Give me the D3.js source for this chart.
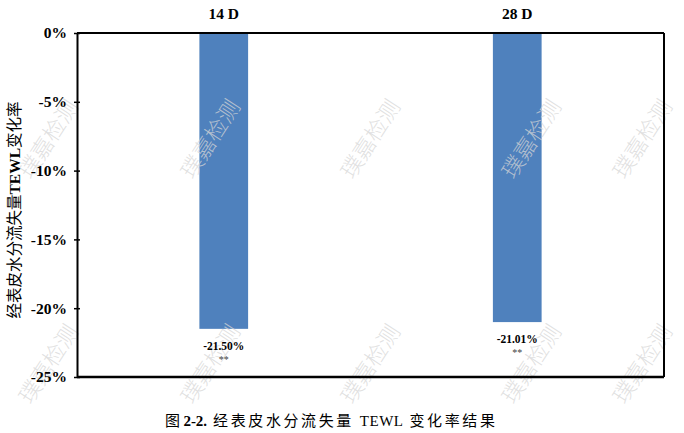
<!DOCTYPE html>
<html><head><meta charset="utf-8">
<script src="https://cdn.jsdelivr.net/npm/d3@7"></script>
<style>body{margin:0;background:#fff;}svg{display:block;}</style>
</head><body>
<svg id="c" width="684" height="433"></svg>
<script>
const categories = ["14 D", "28 D"];
const values = [-21.50, -21.01];
const valueLabels = ["-21.50%", "-21.01%"];
const significance = ["**", "**"];
const yTicks = [0, -5, -10, -15, -20, -25];
const yTitle = ["经表皮水分流失量", "TEWL", "变化率"];
const caption = ["图 ", "2-2.", " 经表皮水分流失量 ", "TEWL", " 变化率结果"];
const watermark = "璞嘉检测";

const svg = d3.select("#c");
const m = {l:77, r:664, t:33, b:377};
const x = d3.scaleBand().domain(categories).range([m.l, m.r]).paddingInner(0.834).paddingOuter(0.417);
const y = d3.scaleLinear().domain([0, -25]).range([m.t, m.b]);
const serif = "'Liberation Serif','Times New Roman',serif";
const cjk = "'Noto Sans CJK SC','Noto Sans',sans-serif";

svg.append("rect").attr("x",0).attr("y",0).attr("width",684).attr("height",433).attr("fill","#fff");

// bars
svg.selectAll("rect.bar").data(categories).join("rect").attr("class","bar")
  .attr("x", d=>x(d)).attr("width", x.bandwidth())
  .attr("y", y(0)).attr("height", (d,i)=>y(values[i])-y(0))
  .attr("fill","#4F81BD");

// watermarks
const wmX = [50, 212, 372, 533, 644];
const wmY = [140, 365];
wmY.forEach(wy=>wmX.forEach(wx=>{
  svg.append("text").attr("transform",`translate(${wx},${wy}) rotate(-57)`).attr("text-anchor","middle")
    .attr("dominant-baseline","middle").attr("font-family",cjk).attr("font-weight",300).attr("font-size",22)
    .attr("fill","#d6d6d6").attr("fill-opacity",0.75).text(watermark);
}));

// frame
const g = svg.append("g");
g.append("line").attr("x1",m.l).attr("x2",m.r).attr("y1",m.t).attr("y2",m.t).attr("stroke","#000").attr("stroke-width",2);
g.append("line").attr("x1",m.l).attr("x2",m.r).attr("y1",m.b).attr("y2",m.b).attr("stroke","#000").attr("stroke-width",2.5);
g.append("line").attr("x1",m.r).attr("x2",m.r).attr("y1",m.t).attr("y2",m.b).attr("stroke","#000").attr("stroke-width",2);

// y axis
const yAxis = d3.axisLeft(y).tickValues(yTicks).tickFormat(d=>d+"%").tickSize(0).tickPadding(10);
const ya = svg.append("g").attr("transform",`translate(${m.l},0)`).call(yAxis);
ya.select(".domain").attr("stroke","#000").attr("stroke-width",2);
ya.selectAll(".tick text").attr("font-family",serif).attr("font-weight","bold").attr("font-size",15.5).attr("fill","#000");
ya.selectAll(".tick").append("line").attr("x1",-3).attr("x2",3).attr("stroke","#000").attr("stroke-width",1.5);

// top category axis
const xAxis = d3.axisTop(x).tickSize(0).tickPadding(14);
const xa = svg.append("g").attr("transform",`translate(0,${m.t})`).call(xAxis);
xa.select(".domain").remove();
xa.selectAll(".tick text").attr("font-family",serif).attr("font-weight","bold").attr("font-size",15.5).attr("fill","#000");

// value labels
categories.forEach((c,i)=>{
  const cx = x(c)+x.bandwidth()/2;
  svg.append("text").attr("x",cx).attr("y",y(values[i])+21).attr("text-anchor","middle")
    .attr("font-family",serif).attr("font-weight","bold").attr("font-size",11.5).text(valueLabels[i]);
  svg.append("text").attr("x",cx).attr("y",y(values[i])+34).attr("text-anchor","middle")
    .attr("font-family",serif).attr("font-size",10).attr("fill","#444").text(significance[i]);
});

// y title
svg.append("text").attr("transform",`translate(20,${(m.t+m.b)/2+5}) rotate(-90)`).attr("text-anchor","middle")
  .attr("font-size",15.5).attr("fill","#000")
  .call(t=>{
    t.append("tspan").attr("font-family",cjk).text(yTitle[0]);
    t.append("tspan").attr("font-family",serif).attr("font-weight","bold").text(yTitle[1]);
    t.append("tspan").attr("font-family",cjk).text(yTitle[2]);
  });

// caption
const cap = svg.append("text").attr("x",165).attr("y",426).attr("font-size",15).attr("fill","#000");
cap.append("tspan").attr("font-family",cjk).text(caption[0]);
cap.append("tspan").attr("font-family",serif).attr("font-weight","bold").text(caption[1]);
cap.append("tspan").attr("font-family",cjk).attr("letter-spacing",2.6).text(caption[2]);
cap.append("tspan").attr("font-family",serif).attr("letter-spacing",0.5).text(caption[3]);
cap.append("tspan").attr("font-family",cjk).attr("letter-spacing",2.6).text(caption[4]);
</script>
</body></html>
